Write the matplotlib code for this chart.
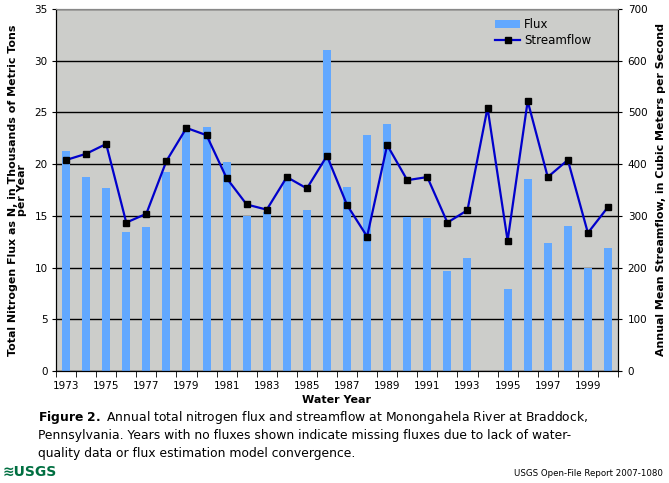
import numpy as np
import matplotlib
matplotlib.use("Agg")
import matplotlib.pyplot as plt
from matplotlib.lines import Line2D
from matplotlib.patches import Patch

# Data
years = list(range(1973, 2001))
flux = [21.3, 18.8, 17.7, 13.4, 13.9, 19.2, 23.2, 23.6, 20.2, 15.0,
        15.4, 18.5, 15.6, 31.0, 17.8, 22.8, 23.9, 14.9, 14.8, 9.7,
        10.9, np.nan, 7.9, 18.6, 12.4, 14.0, 10.0, 11.9]
streamflow = [408, 420, 439, 287, 304, 406, 470, 456, 373, 322,
              312, 375, 353, 416, 321, 260, 437, 369, 375, 287,
              311, 509, 252, 522, 375, 408, 267, 317]
year_labels = [str(y) for y in range(1973, 2000, 2)]

bar_color = '#62a8ff'
line_color = '#0000cc'
bg_color = '#cccdca'

plt.rcParams['font.family'] = ['DejaVu Sans']

fig = plt.figure(figsize=(6.69, 4.83), dpi=100)
ax = fig.add_axes([56 / 669, 1 - 371 / 483, 562 / 669, 362 / 483])
ax.set_facecolor(bg_color)

ax.bar(years, flux, width=0.4, color=bar_color, zorder=2)
ax.set_ylim(0, 35)
ax.set_yticks(range(0, 36, 5))
ax.set_xlim(1972.5, 2000.5)
ax.set_xticks(range(1973, 2000, 2))
ax.set_xticklabels(year_labels)
ax.set_xticks(np.arange(1972.5, 2001, 1), minor=True)
ax.tick_params(axis='x', which='major', length=0, labelsize=7.5, pad=7)
ax.tick_params(axis='x', which='minor', length=4, direction='out')
ax.tick_params(axis='y', length=3, labelsize=7.5, pad=3)
ax.yaxis.grid(True, color='black', linewidth=1.0, zorder=1)
ax.set_axisbelow(True)
ax.set_xlabel('Water Year', fontsize=8, fontweight='bold', labelpad=3)
ax.set_ylabel('Total Nitrogen Flux as N, in Thousands of Metric Tons\nper Year',
              fontsize=7.9, fontweight='bold', linespacing=0.95, labelpad=5)
ax.spines['top'].set_color('#888888')

ax2 = ax.twinx()
ax2.plot(years, streamflow, color=line_color, linewidth=1.6, marker='s',
         markersize=5, markerfacecolor='black', markeredgecolor='black', zorder=3)
ax2.set_ylim(0, 700)
ax2.set_yticks(range(0, 701, 100))
ax2.tick_params(axis='y', length=3, labelsize=7.5, pad=4)
ax2.set_ylabel('Annual Mean Streamflow, in Cubic Meters per Second',
               fontsize=7.9, fontweight='bold', labelpad=6)
ax2.spines['top'].set_color('#888888')

handles = [Patch(facecolor=bar_color, edgecolor='none', label='Flux'),
           Line2D([], [], color=line_color, linewidth=1.6, marker='s', markersize=5,
                  markerfacecolor='black', markeredgecolor='black', label='Streamflow')]
leg = ax2.legend(handles=handles, loc='upper right', bbox_to_anchor=(0.968, 1.0),
                 frameon=False, fontsize=8.5, handlelength=2.2, handletextpad=0.3,
                 labelspacing=0.25, borderaxespad=0.35)

fig.text(38 / 669, 1 - 418 / 483,
         r'$\mathbf{Figure\ 2.}$ Annual total nitrogen flux and streamflow at Monongahela River at Braddock,',
         fontsize=8.9, va='center', ha='left')
fig.text(38 / 669, 1 - 436 / 483,
         'Pennsylvania. Years with no fluxes shown indicate missing fluxes due to lack of water-',
         fontsize=8.9, va='center', ha='left')
fig.text(38 / 669, 1 - 454 / 483,
         'quality data or flux estimation model convergence.',
         fontsize=8.9, va='center', ha='left')

fig.text(3 / 669, 1 - 472 / 483, '\u224bUSGS', fontsize=10, fontweight='bold',
         color='#006f41', va='center', ha='left',
         family=['Liberation Sans Narrow', 'DejaVu Sans'])
fig.text(663 / 669, 1 - 474 / 483, 'USGS Open-File Report 2007-1080', fontsize=6.2,
         va='center', ha='right', family=['Liberation Sans Narrow', 'DejaVu Sans'])

fig.savefig('out.png', dpi=100)
